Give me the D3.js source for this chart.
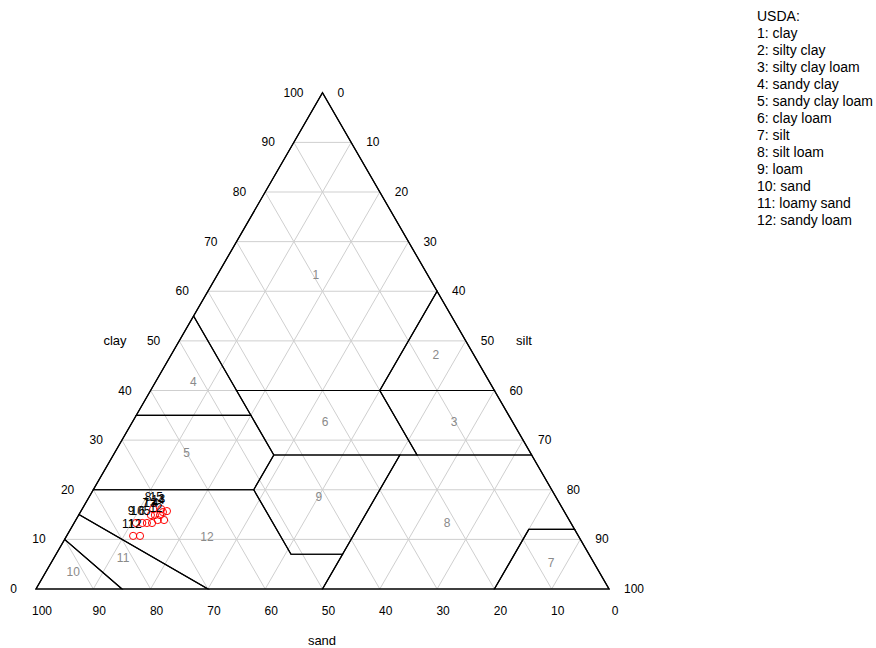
<!DOCTYPE html>
<html><head><meta charset="utf-8">
<script src="https://cdn.jsdelivr.net/npm/d3@7"></script>
<style>body{margin:0;background:#fff}svg{display:block;font-family:"Liberation Sans",Arial,sans-serif}</style>
</head><body><svg id="c" width="876" height="648"></svg>
<script>
// ---- data ----
const ticks = [0,10,20,30,40,50,60,70,80,90,100];
const classNames = ["clay","silty clay","silty clay loam","sandy clay","sandy clay loam","clay loam","silt","silt loam","loam","sand","loamy sand","sandy loam"];
// region polygons as [sand, silt, clay]
const regionPolys = [
  [[0,0,100],[0,40,60],[20,40,40],[45,15,40],[45,0,55]],
  [[0,40,60],[0,60,40],[20,40,40]],
  [[0,60,40],[0,73,27],[20,53,27],[20,40,40]],
  [[45,0,55],[45,15,40],[45,20,35],[65,0,35]],
  [[65,0,35],[45,20,35],[45,28,27],[52,28,20],[80,0,20]],
  [[20,40,40],[45,15,40],[45,20,35],[45,28,27],[20,53,27]],
  [[20,80,0],[0,100,0],[0,88,12],[8,80,12]],
  [[50,50,0],[20,80,0],[8,80,12],[0,88,12],[0,73,27],[23,50,27]],
  [[45,28,27],[23,50,27],[43,50,7],[52,41,7],[52,28,20]],
  [[100,0,0],[90,0,10],[85,15,0]],
  [[90,0,10],[85,0,15],[70,30,0],[85,15,0]],
  [[80,0,20],[52,28,20],[52,41,7],[43,50,7],[50,50,0],[70,30,0],[85,0,15]]
];
// region number label positions [sand, silt, clay]
const regionLabelPos = [
  [19.5,17.2,63.3],[6.6,46.2,47.2],[10.2,56.1,33.7],[51.7,6.6,41.7],[60,12.6,27.4],[32.7,33.6,33.7],
  [7.5,87.3,5.2],[21.6,65.1,13.3],[41.4,40.1,18.5],[91.8,4.8,3.4],[81.7,12.1,6.2],[64.9,24.6,10.5]
];
// samples
const sampleIds   = [1,2,3,4,5,6,7,8,9,10,11,12,13,14,15];
const sampleSand  = [71.8,70.7,69.3,70.9,73.1,74.0,72.5,71.5,75.9,74.8,77.7,76.5,71.8,70.1,70.1];
const sampleSilt  = [14.3,15.4,15.0,14.2,13.6,12.7,12.6,12.4,10.8,11.9,11.6,12.8,13.3,14.4,13.8];
const sampleClay  = [13.9,13.9,15.7,14.9,13.3,13.3,14.9,16.1,13.3,13.3,10.7,10.7,14.9,15.5,16.1];

// ---- scales ----
const W = 573, H = W*Math.sqrt(3)/2;
const xS = d3.scaleLinear().domain([0,100]).range([36,36+W]);
const yS = d3.scaleLinear().domain([0,100]).range([589,589-H]);
const px = (s,si,c) => xS(si + c/2);
const py = (s,si,c) => yS(c);
const pt = d => [px(...d), py(...d)];

const svg = d3.select("#c");
const line = d3.line();

// grid
const g = svg.append("g").attr("stroke","#cfcfcf").attr("stroke-width",1).attr("fill","none");
ticks.slice(1,-1).forEach(k=>{
  g.append("path").attr("d",line([pt([100-k,0,k]),pt([0,100-k,k])]));
  g.append("path").attr("d",line([pt([k,0,100-k]),pt([k,100-k,0])]));
  g.append("path").attr("d",line([pt([0,k,100-k]),pt([100-k,k,0])]));
});

// region borders
svg.append("g").selectAll("path").data(regionPolys).join("path")
  .attr("d",p=>line(p.map(pt))+"Z").attr("fill","none").attr("stroke","#000").attr("stroke-width",1.2);

// triangle outline
svg.append("path").attr("d",line([pt([100,0,0]),pt([0,100,0]),pt([0,0,100])])+"Z")
  .attr("fill","none").attr("stroke","#000").attr("stroke-width",1.2);

// region labels
svg.append("g").selectAll("text").data(regionLabelPos).join("text")
  .attr("x",d=>px(...d)).attr("y",d=>py(...d)+4).attr("text-anchor","middle")
  .attr("font-size",12).attr("fill","#8a8a8a").text((d,i)=>i+1);

// tick labels
const tk = svg.append("g").attr("font-size",12).attr("fill","#000");
ticks.forEach(k=>{
  tk.append("text").attr("x",px(100-k,0,k)-19).attr("y",py(100-k,0,k)+4).attr("text-anchor","end").text(k);
  tk.append("text").attr("x",px(0,k,100-k)+15).attr("y",py(0,k,100-k)+4).attr("text-anchor","start").text(k);
  tk.append("text").attr("x",px(k,100-k,0)+6).attr("y",py(k,100-k,0)+26).attr("text-anchor","middle").text(k);
});
// axis titles
const at = svg.append("g").attr("font-size",13).attr("fill","#000").attr("text-anchor","middle");
at.append("text").attr("x",115).attr("y",345).text("clay");
at.append("text").attr("x",524).attr("y",345).text("silt");
at.append("text").attr("x",322).attr("y",645).text("sand");

// samples
const samples = sampleIds.map((id,i)=>({id, s:sampleSand[i], si:sampleSilt[i], c:sampleClay[i]}));
svg.append("g").selectAll("circle").data(samples).join("circle")
  .attr("cx",d=>px(d.s,d.si,d.c)).attr("cy",d=>py(d.s,d.si,d.c)).attr("r",3.6)
  .attr("fill","none").attr("stroke","#ff0000").attr("stroke-width",1);
svg.append("g").selectAll("text").data(samples).join("text")
  .attr("x",d=>px(d.s,d.si,d.c)-5).attr("y",d=>py(d.s,d.si,d.c)-8).attr("text-anchor","middle")
  .attr("font-size",12).attr("fill","#000").text(d=>d.id);

// legend
const lg = svg.append("g").attr("font-size",14).attr("fill","#000");
lg.append("text").attr("x",757).attr("y",21).text("USDA:");
classNames.forEach((n,i)=>lg.append("text").attr("x",757).attr("y",38+i*17).text((i+1)+": "+n));
</script></body></html>
